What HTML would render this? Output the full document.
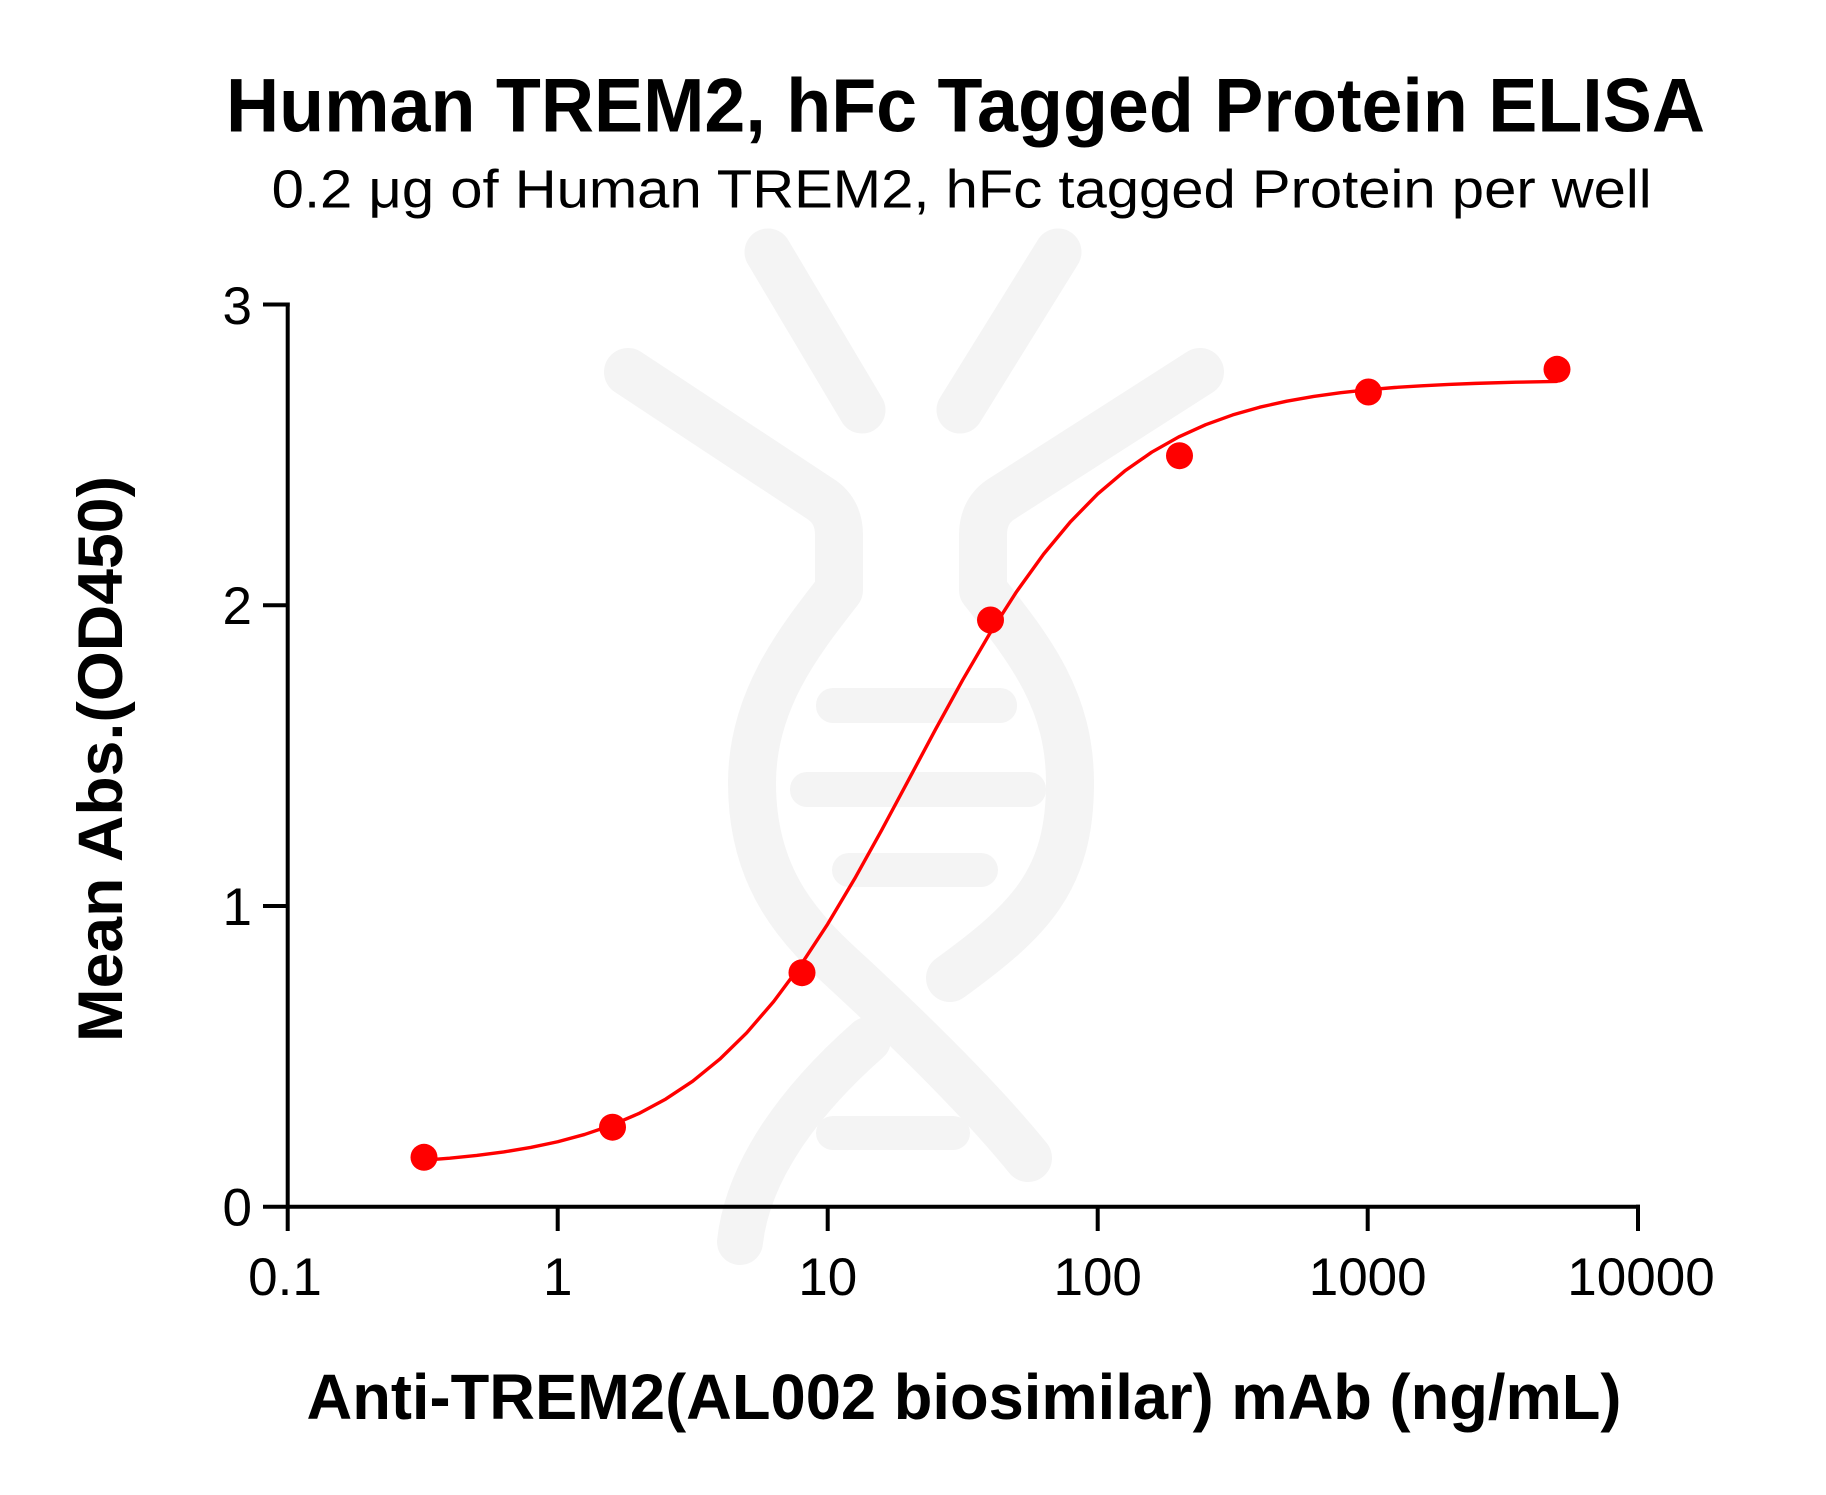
<!DOCTYPE html>
<html>
<head>
<meta charset="utf-8">
<style>
  html, body { margin:0; padding:0; background:#ffffff; }
  svg { display:block; }
</style>
</head>
<body>
<svg width="1826" height="1495" viewBox="0 0 1826 1495" xmlns="http://www.w3.org/2000/svg">
  <rect x="0" y="0" width="1826" height="1495" fill="#ffffff"/>

  <!-- Watermark -->
  <g fill="none" stroke="#f4f4f4" stroke-linecap="round" stroke-linejoin="round">
    <line x1="768" y1="252" x2="862" y2="410" stroke-width="47"/>
    <line x1="1058" y1="252" x2="960" y2="410" stroke-width="47"/>
    <path d="M 628 372 L 822 500 Q 839 512 839 535 L 839 590 C 800 640 752 700 752 783 C 752 880 800 930 850 975 C 920 1040 985 1105 1028 1158" stroke-width="48"/>
    <path d="M 1200 372 L 1000 500 Q 983 512 983 535 L 983 590 C 1030 650 1070 700 1070 783 C 1070 880 1030 920 950 978" stroke-width="48"/>
    <path d="M 868 1040 C 800 1100 748 1170 740 1242" stroke-width="46"/>
    <line x1="833" y1="1133" x2="953" y2="1133" stroke-width="34"/>
  </g>
  <g fill="#f4f4f4">
    <rect x="816" y="688" width="201" height="35" rx="17"/>
    <rect x="790" y="772" width="256" height="35" rx="17"/>
    <rect x="832" y="853" width="166" height="34" rx="17"/>
  </g>

  <!-- Titles -->
  <text x="965.5" y="131.7" text-anchor="middle" font-family="'Liberation Sans', Arial, sans-serif" font-weight="bold" font-size="76" textLength="1479" lengthAdjust="spacingAndGlyphs" fill="#000">Human TREM2, hFc Tagged Protein ELISA</text>
  <text x="961.7" y="207.3" text-anchor="middle" font-family="'Liberation Sans', Arial, sans-serif" font-size="54" textLength="1380" lengthAdjust="spacingAndGlyphs" fill="#000">0.2 μg of Human TREM2, hFc tagged Protein per well</text>

  <!-- Axes -->
  <g stroke="#000" stroke-width="4" fill="none">
    <line x1="287.7" y1="302.5" x2="287.7" y2="1231"/>
    <line x1="263" y1="1206.7" x2="1640" y2="1206.7"/>
    <line x1="263" y1="304.5" x2="289.7" y2="304.5"/>
    <line x1="263" y1="605.3" x2="287.7" y2="605.3"/>
    <line x1="263" y1="906" x2="287.7" y2="906"/>
    <line x1="557.7" y1="1206.7" x2="557.7" y2="1231"/>
    <line x1="827.7" y1="1206.7" x2="827.7" y2="1231"/>
    <line x1="1097.7" y1="1206.7" x2="1097.7" y2="1231"/>
    <line x1="1367.7" y1="1206.7" x2="1367.7" y2="1231"/>
    <line x1="1638" y1="1204.7" x2="1638" y2="1231"/>
  </g>

  <!-- Y tick labels -->
  <g font-family="'Liberation Sans', Arial, sans-serif" font-size="53" fill="#000" text-anchor="end">
    <text x="252" y="324">3</text>
    <text x="252" y="624">2</text>
    <text x="252" y="925">1</text>
    <text x="252" y="1225.5">0</text>
  </g>
  <!-- X tick labels -->
  <g font-family="'Liberation Sans', Arial, sans-serif" font-size="53" fill="#000" text-anchor="middle">
    <text x="285" y="1295">0.1</text>
    <text x="557.7" y="1295">1</text>
    <text x="827.7" y="1295">10</text>
    <text x="1097.7" y="1295">100</text>
    <text x="1367.7" y="1295">1000</text>
    <text x="1641" y="1295">10000</text>
  </g>

  <!-- Axis titles -->
  <text x="964" y="1419" text-anchor="middle" font-family="'Liberation Sans', Arial, sans-serif" font-weight="bold" font-size="64" textLength="1315" lengthAdjust="spacingAndGlyphs" fill="#000">Anti-TREM2(AL002 biosimilar) mAb (ng/mL)</text>
  <text transform="translate(122,759) rotate(-90)" x="0" y="0" text-anchor="middle" font-family="'Liberation Sans', Arial, sans-serif" font-weight="bold" font-size="63" textLength="566" lengthAdjust="spacingAndGlyphs" fill="#000">Mean Abs.(OD450)</text>

  <!-- Fitted curve -->
  <polyline fill="none" stroke="#ff0000" stroke-width="3.4" stroke-linejoin="round" stroke-linecap="round"
    points="424.05,1160.2 449.7,1158.19 476.7,1155.45 503.7,1151.96 530.7,1147.47 557.7,1141.75 584.7,1134.45 611.7,1125.23 638.7,1113.61 665.7,1099.10 692.7,1081.16 719.7,1059.23 746.7,1032.80 773.7,1001.50 800.7,965.18 827.7,924.03 854.7,878.65 881.7,830.06 908.7,779.67 935.7,729.04 962.7,679.92 989.7,633.66 1016.7,591.45 1043.7,553.98 1070.7,521.52 1097.7,493.95 1124.7,471.03 1151.7,452.19 1178.7,436.92 1205.7,424.67 1232.7,414.92 1259.7,407.21 1286.7,401.2 1313.7,396.39 1340.7,392.7 1367.7,389.78 1394.7,387.5 1421.7,385.78 1448.7,384.4 1475.7,383.37 1516,382.2 1556.4,381.44"/>

  <!-- Data points -->
  <g fill="#ff0000">
    <circle cx="424" cy="1157.3" r="13.5"/>
    <circle cx="612.5" cy="1127.2" r="13.5"/>
    <circle cx="802" cy="972.7" r="13.5"/>
    <circle cx="990.5" cy="620" r="13.5"/>
    <circle cx="1179.5" cy="455.7" r="13.5"/>
    <circle cx="1368.4" cy="392" r="13.5"/>
    <circle cx="1557" cy="369.3" r="13.5"/>
  </g>
</svg>
</body>
</html>
